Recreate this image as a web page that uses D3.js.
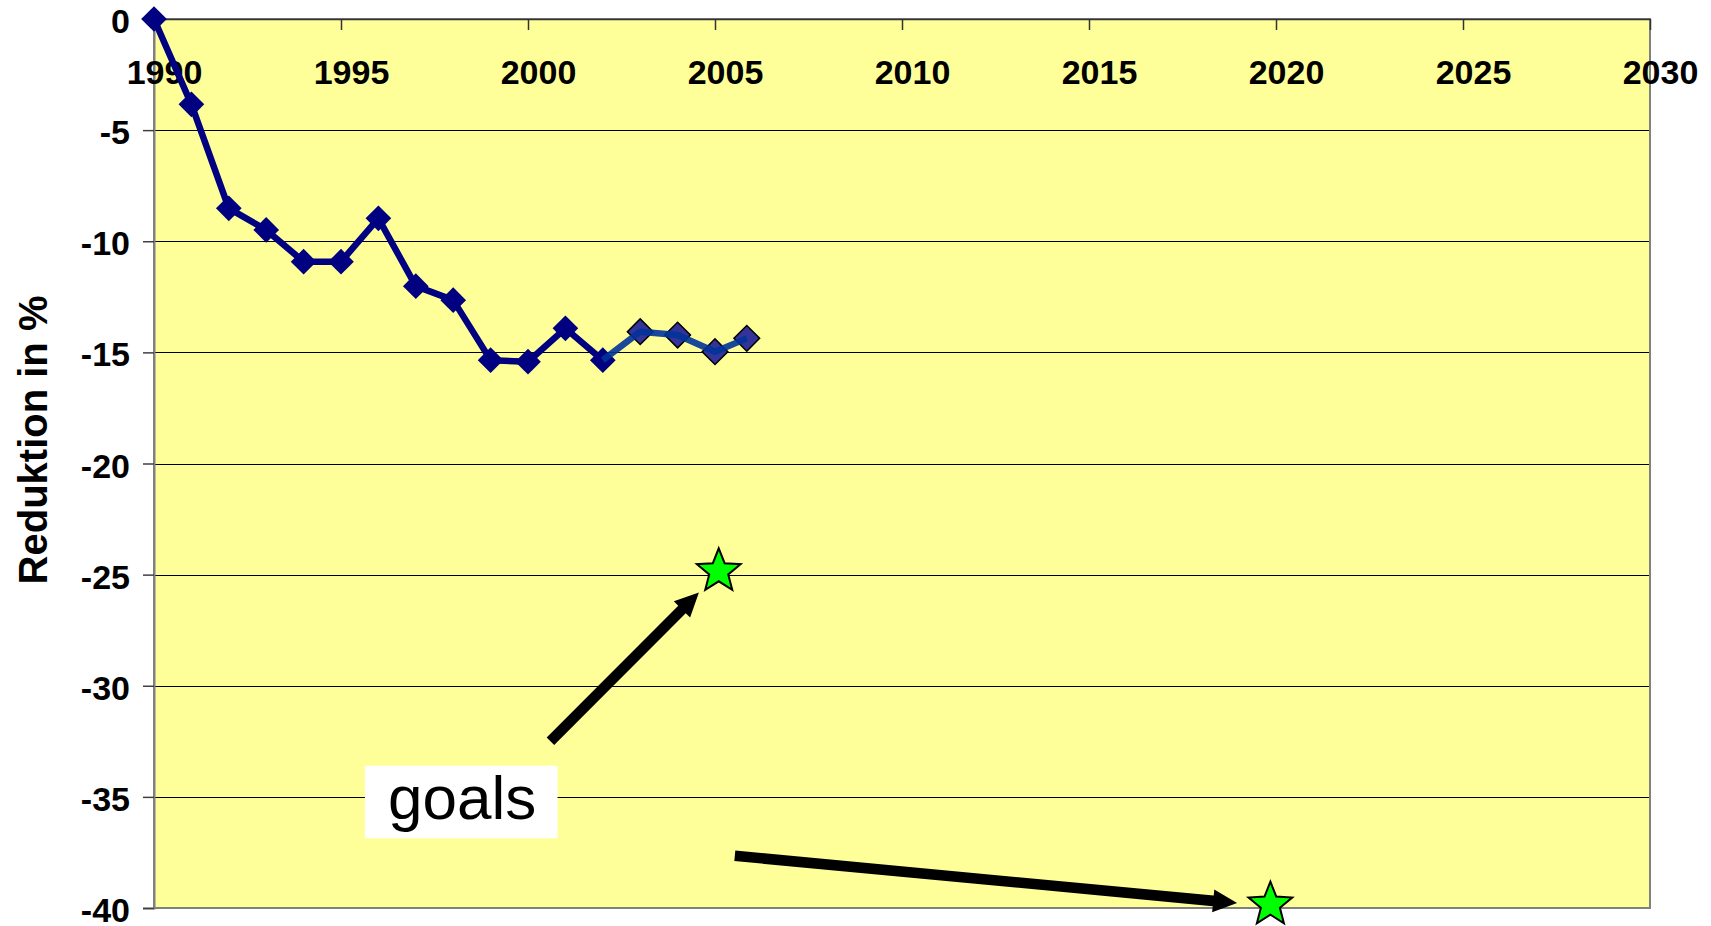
<!DOCTYPE html>
<html><head><meta charset="utf-8">
<script src="https://cdn.jsdelivr.net/npm/d3@7"></script>
<style>html,body{margin:0;padding:0;background:#fff;overflow:hidden}</style>
</head><body>
<svg id="chart" width="1711" height="926"></svg>
<script>
// ---- data ----
const years1  = [1990, 1991, 1992, 1993, 1994, 1995, 1996, 1997, 1998, 1999, 2000, 2001, 2002];
const values1 = [0, -3.84, -8.52, -9.49, -10.92, -10.92, -8.97, -12.02, -12.65, -15.35, -15.42, -13.92, -15.35];
const years2  = [2002, 2003, 2004, 2005, 2005.85];
const values2 = [-15.35, -14.07, -14.22, -14.97, -14.37];
const goalYears  = [2005.1, 2019.85];
const goalValues = [-24.85, -39.85];
const xTicks = [1990, 1995, 2000, 2005, 2010, 2015, 2020, 2025, 2030];
const yTicks = [0, -5, -10, -15, -20, -25, -30, -35, -40];
const yTitle = "Reduktion in %";
const goalText = "goals";
// annotation arrows (data units): start -> end
const arrowFromYears  = [2000.6, 2005.53];
const arrowFromValues = [-32.5, -37.65];
const arrowToYears    = [2004.57, 2018.96];
const arrowToValues   = [-25.8, -39.78];
// label box (data units)
const boxYears  = [1995.64, 2000.79];
const boxValues = [-33.6, -36.86];
const labelAt   = [1998.24, -36.0];

// ---- layout ----
const svg = d3.select("#chart");
const m = {left: 154, top: 19, right: 61, bottom: 18};
const W = 1711 - m.left - m.right, H = 926 - m.top - m.bottom;
const x = d3.scaleLinear().domain([1990, 2030]).range([0, W]);
const y = d3.scaleLinear().domain([0, -40]).range([0, H]);
const g = svg.append("g").attr("transform", `translate(${m.left},${m.top})`);
const FONT = "'Liberation Sans', Arial, sans-serif";

// plot background
g.append("rect").attr("x", 0).attr("y", 0).attr("width", W).attr("height", H).attr("fill", "#FFFF99");

// gridlines
g.append("g").selectAll("line").data(yTicks.filter(t => t !== 0 && t !== -40)).join("line")
  .attr("x1", 0).attr("x2", W).attr("y1", d => Math.round(y(d)) + 0.5).attr("y2", d => Math.round(y(d)) + 0.5)
  .attr("stroke", "#000").attr("stroke-width", 1);

// border
g.append("rect").attr("x", 0).attr("y", 0).attr("width", W).attr("height", H)
  .attr("fill", "none").attr("stroke", "#808080").attr("stroke-width", 2);
g.append("line").attr("x1", 0).attr("x2", W).attr("y1", 0.5).attr("y2", 0.5).attr("stroke", "#333").attr("stroke-width", 1.5);

// y axis
const yAxis = g.append("g").call(d3.axisLeft(y).tickValues(yTicks).tickSize(11).tickPadding(13).tickFormat(d3.format("d")));
yAxis.select(".domain").attr("stroke", "#808080").attr("stroke-width", 2);
yAxis.selectAll(".tick line").attr("stroke", "#404040").attr("stroke-width", 1.5);
yAxis.selectAll(".tick text").attr("font-family", FONT)
  .attr("font-weight", "bold").attr("font-size", 34).attr("fill", "#000").attr("dy", "0.4em")
  .text(d => d === 0 ? "0" : "-" + Math.abs(d));

// x axis on top, ticks inward
const xAxis = g.append("g").call(d3.axisBottom(x).tickValues(xTicks).tickSize(11).tickPadding(30).tickFormat(d3.format("d")));
xAxis.select(".domain").remove();
xAxis.selectAll(".tick line").attr("stroke", "#333").attr("stroke-width", 1.5);
xAxis.selectAll(".tick text").attr("font-family", FONT)
  .attr("font-weight", "bold").attr("font-size", 34).attr("fill", "#000")
  .attr("dy", 0).attr("y", 64.5).attr("x", 10);

// y title
svg.append("text").attr("transform", `translate(47,440) rotate(-90)`)
  .attr("text-anchor", "middle").attr("font-family", FONT)
  .attr("font-weight", "bold").attr("font-size", 40).attr("fill", "#000").text(yTitle);

// series
const s1 = years1.map((yr, i) => [yr, values1[i]]);
const s2 = years2.map((yr, i) => [yr, values2[i]]);
const line = d3.line().x(d => x(d[0])).y(d => y(d[1]));
const marker = d3.symbol().type(d3.symbolSquare).size(330);
g.append("path").datum(s1).attr("d", line).attr("fill", "none").attr("stroke", "#000080")
  .attr("stroke-width", 6.5).attr("stroke-linejoin", "round");
g.append("g").selectAll("path").data(s1).join("path")
  .attr("transform", d => `translate(${x(d[0])},${y(d[1])}) rotate(45)`)
  .attr("d", marker).attr("fill", "#000080");
g.append("g").selectAll("path").data(s2.slice(1)).join("path")
  .attr("transform", d => `translate(${x(d[0])},${y(d[1])}) rotate(45)`)
  .attr("d", marker).attr("fill", "#333399")
  .attr("stroke", "#000").attr("stroke-width", 1.5);
g.append("path").datum(s2).attr("d", line).attr("fill", "none").attr("stroke", "#003399")
  .attr("stroke-width", 6.5).attr("stroke-linejoin", "round").attr("opacity", 0.9);

// arrows
function arrowPath(x0, y0, x1, y1) {
  const dx = x1 - x0, dy = y1 - y0, L = Math.hypot(dx, dy);
  const ux = dx / L, uy = dy / L, px = -uy, py = ux;
  const sw = 5.3, hw = 11.5, hl = 24;
  const bx = x1 - ux * hl, by = y1 - uy * hl;
  const pts = [
    [x0 + px * sw, y0 + py * sw], [bx + px * sw, by + py * sw], [bx + px * hw, by + py * hw],
    [x1, y1], [bx - px * hw, by - py * hw], [bx - px * sw, by - py * sw], [x0 - px * sw, y0 - py * sw]
  ];
  return "M" + pts.map(p => p.join(",")).join("L") + "Z";
}
g.append("g").selectAll("path").data(arrowFromYears.map((v, i) => i)).join("path")
  .attr("d", i => arrowPath(x(arrowFromYears[i]), y(arrowFromValues[i]), x(arrowToYears[i]), y(arrowToValues[i])))
  .attr("fill", "#000");

// goals label
g.append("rect").attr("x", x(boxYears[0])).attr("y", y(boxValues[0]))
  .attr("width", x(boxYears[1]) - x(boxYears[0])).attr("height", y(boxValues[1]) - y(boxValues[0]))
  .attr("fill", "#fff");
g.append("text").attr("x", x(labelAt[0])).attr("y", y(labelAt[1])).attr("text-anchor", "middle")
  .attr("font-family", FONT).attr("font-size", 62).attr("fill", "#000")
  .text(goalText);

// stars
const R = 23, r = 10;
const starPts = d3.range(10).map(i => [i * Math.PI / 5, i % 2 === 0 ? R : r]);
const star = d3.lineRadial().curve(d3.curveLinearClosed)(starPts);
g.append("g").selectAll("path").data(goalYears.map((v, i) => [v, goalValues[i]])).join("path")
  .attr("transform", d => `translate(${x(d[0])},${y(d[1])})`)
  .attr("d", star).attr("fill", "#00FF00").attr("stroke", "#000").attr("stroke-width", 2)
  .attr("stroke-linejoin", "miter");
</script>
</body></html>
